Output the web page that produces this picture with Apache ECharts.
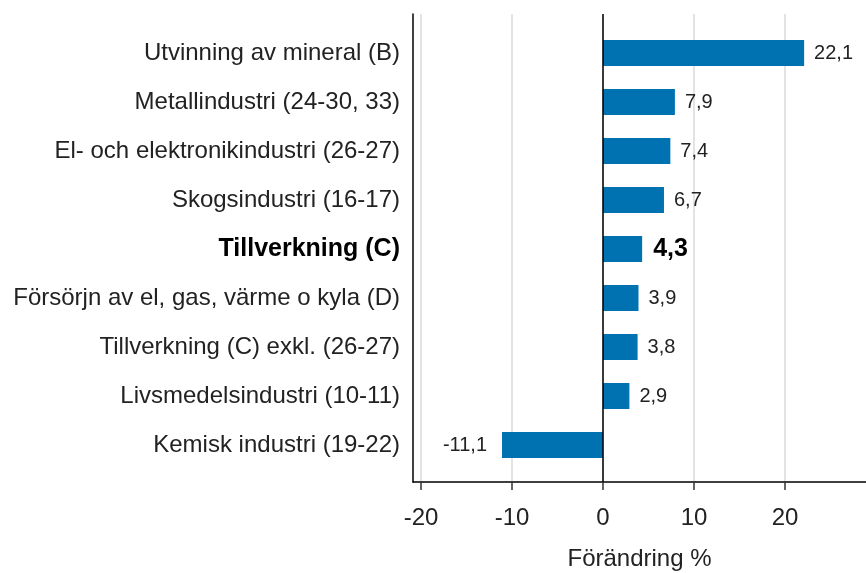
<!DOCTYPE html>
<html>
<head>
<meta charset="utf-8">
<script src="https://cdn.jsdelivr.net/npm/echarts@6/dist/echarts.min.js"></script>
<style>
  html, body { margin: 0; padding: 0; background: #fff; }
  #chart { width: 866px; height: 573px; }
</style>
</head>
<body>
<div id="chart"></div>
<script>
// kategorier uppifrån och ned
const categories = [
  "Utvinning av mineral (B)",
  "Metallindustri (24-30, 33)",
  "El- och elektronikindustri (26-27)",
  "Skogsindustri (16-17)",
  "Tillverkning (C)",
  "Försörjn av el, gas, värme o kyla (D)",
  "Tillverkning (C) exkl. (26-27)",
  "Livsmedelsindustri (10-11)",
  "Kemisk industri (19-22)"
];
const values = [22.1, 7.9, 7.4, 6.7, 4.3, 3.9, 3.8, 2.9, -11.1];
const boldIndex = 4;
const xTicks = [-20, -10, 0, 10, 20];

const font = "'Liberation Sans', Arial, sans-serif";
const fmt = v => String(v).replace(".", ",");
const xMin = -20.88, xMax = 28.9;

const chart = echarts.init(document.getElementById("chart"));

const barData = values.map((v, i) => {
  const item = {
    value: v,
    label: { position: v < 0 ? "left" : "right", distance: v < 0 ? 15 : 10 }
  };
  if (i === boldIndex) {
    item.label.fontWeight = "bold";
    item.label.fontSize = 25;
    item.label.distance = 11;
    item.label.color = "#000";
  }
  return item;
});

chart.setOption({
  animation: false,
  textStyle: { fontFamily: font },
  grid: [
    // ram med axlar och stödlinjer
    { left: 413, right: 0, top: 14, bottom: 91, outerBoundsMode: "none", containLabel: false },
    // staplar
    { left: 413, right: 0, top: 28.5, bottom: 103.5, outerBoundsMode: "none", containLabel: false }
  ],
  xAxis: [
    {
      gridIndex: 0,
      type: "value",
      min: xMin,
      max: xMax,
      name: "Förändring %",
      nameLocation: "middle",
      nameGap: 65,
      nameTextStyle: { fontSize: 24, color: "#222", fontFamily: font },
      axisLine: { show: true, onZero: false, lineStyle: { color: "#000", width: 1.5 } },
      axisTick: { show: true, length: 8, customValues: xTicks, lineStyle: { color: "#333", width: 1.5 } },
      axisLabel: { customValues: xTicks, fontSize: 24, color: "#222", margin: 24, fontFamily: font },
      splitLine: { show: true, lineStyle: { color: "#e3e3e3", width: 2 } }
    },
    {
      gridIndex: 1,
      type: "value",
      min: xMin,
      max: xMax,
      show: false
    }
  ],
  yAxis: [
    {
      gridIndex: 0,
      type: "value",
      min: 0,
      max: 1,
      axisLine: { show: true, onZero: false, lineStyle: { color: "#000", width: 1.5 } },
      axisTick: { show: false },
      axisLabel: { show: false },
      splitLine: { show: false }
    },
    {
      gridIndex: 1,
      type: "category",
      inverse: true,
      data: categories,
      axisLine: { show: false },
      axisTick: { show: false },
      splitLine: { show: false },
      axisLabel: {
        margin: 13,
        fontSize: 24,
        color: "#222",
        fontFamily: font,
        formatter: (name, idx) => idx === boldIndex ? "{b|" + name + "}" : name,
        rich: {
          b: { fontWeight: "bold", fontSize: 25, color: "#000", fontFamily: font }
        }
      }
    }
  ],
  series: [
    {
      type: "line",
      xAxisIndex: 0,
      yAxisIndex: 0,
      data: [],
      z: 5,
      markLine: {
        silent: true,
        symbol: "none",
        label: { show: false },
        lineStyle: { color: "#000", width: 1.5, type: "solid" },
        data: [{ xAxis: 0 }]
      }
    },
    {
      type: "bar",
      xAxisIndex: 1,
      yAxisIndex: 1,
      barWidth: 26,
      z: 3,
      itemStyle: { color: "#0072B2" },
      label: {
        show: true,
        fontSize: 20,
        color: "#222",
        fontFamily: font,
        formatter: p => fmt(p.value)
      },
      data: barData
    }
  ]
});
</script>
</body>
</html>
